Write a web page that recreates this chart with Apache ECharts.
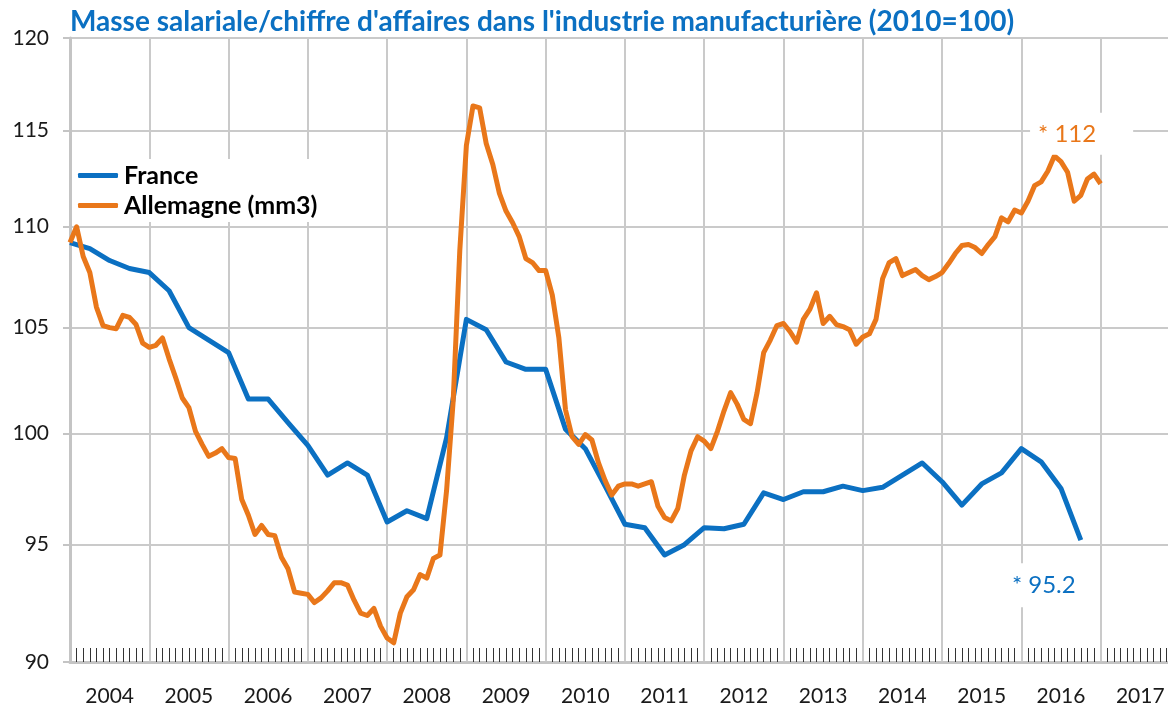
<!DOCTYPE html>
<html>
<head>
<meta charset="utf-8">
<script src="https://cdn.jsdelivr.net/npm/echarts@6/dist/echarts.min.js"></script>
<style>
  html, body { margin: 0; padding: 0; background: #fff; }
  #chart { width: 1168px; height: 707px; }
</style>
</head>
<body>
<div id="chart"></div>
<script>
const startYear = 2004
const endYear = 2017.85
const yearLabels = ['2004', '2005', '2006', '2007', '2008', '2009', '2010', '2011', '2012', '2013', '2014', '2015', '2016', '2017']
const yTicks = [90, 95, 100, 105, 110, 115, 120]

// France : trimestriel, 2004T1 -> 2016T4
const franceValues = [
  109.2, 108.9, 108.3, 107.9, 107.7, 106.8, 105.0, 104.4,
  103.8, 101.6, 101.6, 100.5, 99.45, 98.1, 98.65, 98.1,
  96.0, 96.5, 96.15, 99.8, 105.4, 104.9, 103.35, 103.0,
  103.0, 100.2, 99.3, 97.6, 95.9, 95.75, 94.55, 95.0,
  95.75, 95.7, 95.9, 97.3, 97.0, 97.35, 97.35, 97.6,
  97.4, 97.55, 98.1, 98.65, 97.8, 96.75, 97.7, 98.2,
  99.3, 98.7, 97.5, 95.2
]

// Allemagne (mm3) : mensuel, janv. 2004 -> janv. 2017
const germanyValues = [
  109.2, 110.0, 108.5, 107.7, 106.0, 105.1, 105.0, 104.95, 105.6, 105.5, 105.15, 104.25,
  104.05, 104.15, 104.5, 103.5, 102.6, 101.65, 101.2, 100.1, 99.5, 98.95, 99.1, 99.3,
  98.9, 98.85, 97.0, 96.3, 95.45, 95.85, 95.45, 95.4, 94.45, 93.95, 92.95, 92.9,
  92.85, 92.5, 92.7, 93.0, 93.35, 93.35, 93.25, 92.6, 92.05, 91.95, 92.25, 91.5,
  91.0, 90.8, 92.05, 92.75, 93.05, 93.7, 93.55, 94.4, 94.55, 97.4, 101.5, 108.8,
  114.2, 116.3, 116.2, 114.3, 113.2, 111.7, 110.8, 110.2, 109.5, 108.4, 108.2, 107.8,
  107.8, 106.6, 104.5, 101.1, 99.85, 99.5, 99.95, 99.7, 98.65, 97.85, 97.2, 97.6,
  97.7, 97.7, 97.6, 97.7, 97.8, 96.7, 96.2, 96.05, 96.6, 98.1, 99.2, 99.85,
  99.65, 99.3, 100.1, 101.05, 101.9, 101.35, 100.65, 100.45, 101.9, 103.8, 104.4, 105.1,
  105.2, 104.8, 104.3, 105.4, 105.9, 106.7, 105.2, 105.55, 105.15, 105.05, 104.9, 104.2,
  104.55, 104.7, 105.4, 107.4, 108.2, 108.4, 107.55, 107.7, 107.85, 107.55, 107.35, 107.5,
  107.7, 108.15, 108.65, 109.05, 109.1, 108.95, 108.65, 109.1, 109.5, 110.45, 110.25, 110.85,
  110.7, 111.3, 112.1, 112.3, 112.85, 113.65, 113.35, 112.8, 111.3, 111.6, 112.45, 112.7,
  112.2
]

const BLUE = '#0b70c2'
const ORANGE = '#e9771a'
const GRID = '#cacaca'
const FONT = 'Lato'

// axe vertical logarithmique : on passe par ln(valeur)
const franceData = franceValues.map((v, i) => [startYear + i / 4, Math.log(v)])
const germanyData = germanyValues.map((v, i) => [startYear + i / 12, Math.log(v)])
const yearTicks = yearLabels.map(Number)
const monthTicks = []
for (let k = 1; k < yearLabels.length * 12; k++) {
  if (k % 12 != 0 && startYear + k / 12 < endYear) monthTicks.push(startYear + k / 12)
}

const chart = echarts.init(document.getElementById('chart'))
const lastFr = franceData[franceData.length - 1]
const lastDe = germanyData[germanyData.length - 1]

let options = {
  animation: false,
  title: {
    text: "Masse salariale/chiffre d'affaires dans l'industrie manufacturière (2010=100)",
    left: 65,
    top: 3,
    textStyle: { color: BLUE, fontSize: 28, fontWeight: 'bold', fontFamily: FONT },
  },
  legend: {
    orient: 'vertical',
    left: 72,
    top: 159,
    backgroundColor: '#fff',
    padding: [4, 10, 4, 6],
    itemWidth: 40,
    itemHeight: 5,
    itemGap: 5,
    icon: 'roundRect',
    textStyle: { fontSize: 25, color: '#000', fontWeight: 'bold', fontFamily: FONT, padding: [0, 0, 0, 1] },
    data: ['France', 'Allemagne (mm3)'],
  },
  grid: { left: 70, right: 0, top: 38, bottom: 44, containLabel: false },
  xAxis: [
    {
      type: 'value',
      min: startYear,
      max: endYear,
      axisLine: { show: true, onZero: false, lineStyle: { color: '#c4c4c4', width: 3 } },
      axisTick: { show: false, customValues: yearTicks },
      splitLine: { show: true, lineStyle: { color: GRID, width: 2 } },
      axisLabel: {
        customValues: yearTicks.map((y) => y + 0.5),
        formatter: (v) => yearLabels[Math.floor(v) - startYear],
        fontSize: 21,
        color: '#1a1a1a',
        fontFamily: FONT,
        margin: 24,
      },
    },
    {
      type: 'value',
      min: startYear,
      max: endYear,
      position: 'bottom',
      axisLine: { show: false },
      axisTick: { show: true, inside: true, length: 14, customValues: monthTicks, lineStyle: { color: '#333', width: 1 } },
      axisLabel: { show: false },
      splitLine: { show: false },
    },
  ],
  yAxis: {
    type: 'value',
    min: Math.log(yTicks[0]),
    max: Math.log(yTicks[yTicks.length - 1]),
    axisLine: { show: true, lineStyle: { color: '#c4c4c4', width: 3 } },
    axisTick: { show: true, length: 7, customValues: yTicks.map(Math.log), lineStyle: { color: '#c4c4c4', width: 2 } },
    axisLabel: {
      customValues: yTicks.map(Math.log),
      formatter: (v) => String(Math.round(Math.exp(v))),
      fontSize: 21,
      color: '#1a1a1a',
      fontFamily: FONT,
      margin: 21,
    },
    splitLine: { show: true, lineStyle: { color: GRID, width: 2 } },
  },
  series: [
    {
      name: 'France',
      type: 'line',
      data: franceData,
      symbol: 'none',
      lineStyle: { color: BLUE, width: 5, join: 'round' },
      itemStyle: { color: BLUE },
      markPoint: {
        symbol: 'circle',
        symbolSize: 1,
        itemStyle: { color: 'rgba(0,0,0,0)' },
        label: {
          show: true,
          position: 'inside',
          offset: [-37, 45],
          formatter: (p) => '* ' + p.value.toFixed(1),
          color: BLUE,
          fontSize: 24,
          fontFamily: FONT,
          backgroundColor: '#fff',
          padding: [10, 10, 10, 10],
        },
        data: [{ coord: lastFr, value: franceValues[franceValues.length - 1] }],
      },
    },
    {
      name: 'Allemagne (mm3)',
      type: 'line',
      data: germanyData,
      symbol: 'none',
      lineStyle: { color: ORANGE, width: 5, join: 'round' },
      itemStyle: { color: ORANGE },
      markPoint: {
        symbol: 'circle',
        symbolSize: 1,
        itemStyle: { color: 'rgba(0,0,0,0)' },
        label: {
          show: true,
          position: 'inside',
          offset: [-19, -50],
          formatter: (p) => '* ' + Math.round(p.value),
          color: ORANGE,
          fontSize: 24,
          fontFamily: FONT,
          backgroundColor: '#fff',
          padding: [9, 37, 9, 8],
        },
        data: [{ coord: lastDe, value: germanyValues[germanyValues.length - 1] }],
      },
    },
  ],
}
options && chart.setOption(options)
</script>
</body>
</html>
